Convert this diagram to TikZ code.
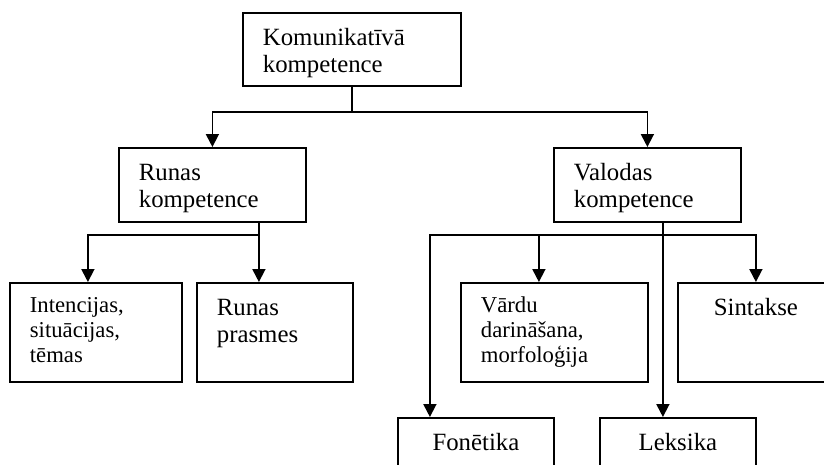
\documentclass[tikz,border=0pt]{standalone}
\usepackage{fontspec}
\setmainfont{Liberation Serif}
\usetikzlibrary{arrows.meta}
\tikzset{
  kbox/.style={draw,line width=1.8pt,anchor=north west,inner xsep=20pt,inner ysep=0pt,align=left,text height=33pt,font=\fontsize{24.8}{27}\selectfont},
  kboxs/.style={kbox,text height=30pt,font=\fontsize{22.7}{24.7}\selectfont},
  conn/.style={line width=1.8pt},
  arr/.style={-{Triangle[length=13pt,width=13pt]},line width=1.8pt}
}

\begin{document}
\begin{tikzpicture}[x=1pt,y=-1pt]
\useasboundingbox (0,0) rectangle (824,464);
\node[kbox,text width=178pt,text depth=40pt] (kom) at (242,12) {Komunikatīvā\\kompetence};
\node[kbox,text width=147pt,text depth=41pt] (runas) at (118,147) {Runas\\kompetence};
\node[kbox,text width=147pt,text depth=41pt] (valodas) at (553,147) {Valodas\\kompetence};
\node[kboxs,text width=132pt,text depth=69pt] (intenc) at (9,282) {Intencijas,\\situācijas,\\tēmas};
\node[kbox,text width=116pt,text depth=66pt] (prasmes) at (196,282) {Runas\\prasmes};
\node[kboxs,text width=147pt,text depth=69pt] (vardu) at (460,282) {Vārdu\\darināšana,\\morfoloģija};
\node[kbox,align=center,text width=116pt,text depth=66pt] (sintakse) at (677,282) {Sintakse};
\node[kbox,align=center,text width=116pt,text depth=50pt] (fonetika) at (397,417) {Fonētika};
\node[kbox,align=center,text width=116pt,text depth=50pt] (leksika) at (599,417) {Leksika};

\draw[conn] (kom.south) -- ++(0,25) coordinate (kj);
\draw[arr] (kj) -| (runas.north);
\draw[arr] (kj) -| (valodas.north);

\draw[conn] ([xshift=46.5pt]runas.south) -- ++(0,12) coordinate (rj);
\draw[arr] (rj) -| ([xshift=-8pt]intenc.north);
\draw[arr] (rj) -- (rj |- prasmes.north);

\draw[conn] ([xshift=15.5pt]valodas.south) -- ++(0,12) coordinate (vj);
\draw[arr] (vj) -| ([xshift=-46pt]fonetika.north);
\draw[arr] (vj) -| ([xshift=-15.5pt]vardu.north);
\draw[arr] (vj) -- (vj |- leksika.north);
\draw[arr] (vj) -| (sintakse.north);
\end{tikzpicture}
\end{document}
